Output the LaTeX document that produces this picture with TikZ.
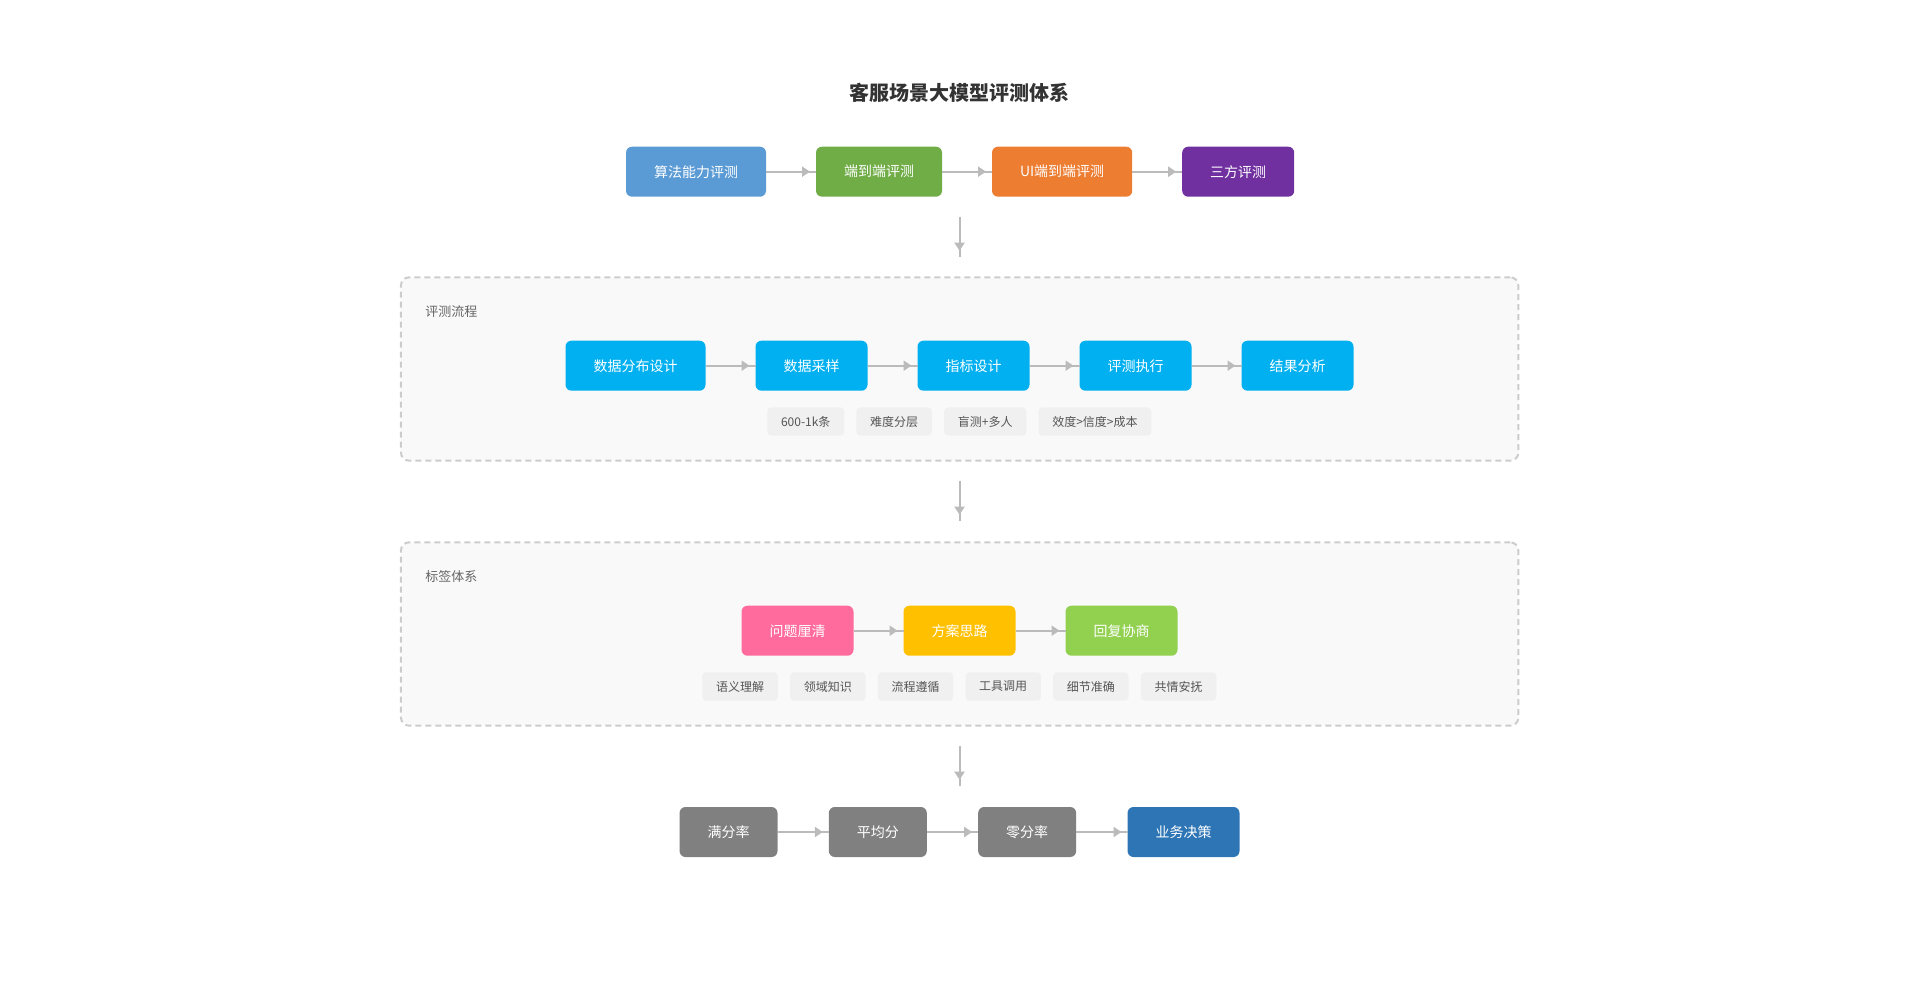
\documentclass[tikz,border=0pt]{standalone}
\usepackage{fontspec}
\setmainfont{Noto Sans CJK SC}
\usetikzlibrary{arrows.meta,positioning}

\definecolor{algoblue}{HTML}{5B9BD5}
\definecolor{endgreen}{HTML}{70AD47}
\definecolor{uiorange}{HTML}{ED7D31}
\definecolor{thirdpurple}{HTML}{7030A0}
\definecolor{flowcyan}{HTML}{00B0F0}
\definecolor{tagpink}{HTML}{FF6B9D}
\definecolor{tagyellow}{HTML}{FFC000}
\definecolor{taggreen}{HTML}{92D050}
\definecolor{metricgray}{HTML}{808080}
\definecolor{decisionblue}{HTML}{2E75B6}
\definecolor{panelbg}{HTML}{F9F9F9}
\definecolor{panelline}{HTML}{CCCCCC}
\definecolor{chipbg}{HTML}{F0F0F0}
\definecolor{chiptext}{HTML}{555555}
\definecolor{labeltext}{HTML}{666666}
\definecolor{titletext}{HTML}{333333}
\definecolor{arrowgray}{HTML}{BBBBBB}

\begin{document}
\begin{tikzpicture}[x=0.75pt,y=-0.75pt,node distance=37.5pt]
    \tikzstyle{box}=[rounded corners=4.5pt, minimum height=37.5pt, inner xsep=21pt, inner ysep=0pt, outer sep=0pt, text=white, font=\fontsize{10.5}{12}\selectfont]
    \tikzstyle{chip}=[rounded corners=3pt, fill=chipbg, text=chiptext, minimum height=21.3pt, inner xsep=10.3pt, inner ysep=0pt, outer sep=0pt, font=\fontsize{9}{11}\selectfont]
    \tikzstyle{panel}=[draw=panelline, dash pattern=on 4.5pt off 3pt, line width=1.5pt, fill=panelbg, rounded corners=6pt, minimum width=838pt, minimum height=137.5pt]
    \tikzstyle{panellabel}=[anchor=west, inner sep=0pt, text=labeltext, font=\fontsize{9.75}{12}\selectfont]
    \tikzstyle{conn}=[draw=arrowgray, line width=1.5pt, -{Triangle[length=6pt,width=7.5pt]}, shorten >=4.5pt, postaction={draw=arrowgray, -, shorten >=0pt}]

    \useasboundingbox (0,0) rectangle (1919,1002);

    \node[font=\bfseries\fontsize{15}{18}\selectfont, text=titletext] (title) at (959.5,93) {客服场景大模型评测体系};

    % evaluation types
    \node[box, fill=algoblue, anchor=west] (algo) at (626,171.7) {算法能力评测};
    \node[box, fill=endgreen, right=of algo]    (e2e)   {端到端评测};
    \node[box, fill=uiorange, right=of e2e]     (uie2e) {UI端到端评测};
    \node[box, fill=thirdpurple, right=of uie2e] (third) {三方评测};

    \draw[conn] (algo) -- (e2e);
    \draw[conn] (e2e) -- (uie2e);
    \draw[conn] (uie2e) -- (third);

    \coordinate (down1s) at (959.5,216.7);
    \coordinate (down1e) at (959.5,256.7);
    \draw[conn] (down1s) -- (down1e);

    % evaluation flow
    \node[panel] (flow) at (959.65,369) {};
    \node[panellabel] (flowlbl) at (425,311.7) {评测流程};

    \node[box, fill=flowcyan, anchor=west] (dist) at (565.5,365.7) {数据分布设计};
    \node[box, fill=flowcyan, right=of dist]   (sample) {数据采样};
    \node[box, fill=flowcyan, right=of sample] (metric) {指标设计};
    \node[box, fill=flowcyan, right=of metric] (exec)   {评测执行};
    \node[box, fill=flowcyan, right=of exec]   (result) {结果分析};

    \draw[conn] (dist) -- (sample);
    \draw[conn] (sample) -- (metric);
    \draw[conn] (metric) -- (exec);
    \draw[conn] (exec) -- (result);

    \node[chip, anchor=west] (size) at (767.3,421.5) {600-1k条};
    \node[chip, right=9.2pt of size]  (level) {难度分层};
    \node[chip, right=9.2pt of level] (blind) {盲测+多人};
    \node[chip, right=9.2pt of blind] (valid) {效度>信度>成本};

    \coordinate (down2s) at (959.5,480.7);
    \coordinate (down2e) at (959.5,520.7);
    \draw[conn] (down2s) -- (down2e);

    % label system
    \node[panel] (labels) at (959.65,634) {};
    \node[panellabel] (labelslbl) at (425,576.7) {标签体系};

    \node[box, fill=tagpink, anchor=west] (clarify) at (741.5,630.7) {问题厘清};
    \node[box, fill=tagyellow, right=of clarify] (plan)  {方案思路};
    \node[box, fill=taggreen, right=of plan]     (reply) {回复协商};

    \draw[conn] (clarify) -- (plan);
    \draw[conn] (plan) -- (reply);

    \node[chip, anchor=west] (semantic) at (702.3,686.5) {语义理解};
    \node[chip, right=9.2pt of semantic] (domain)  {领域知识};
    \node[chip, right=9.2pt of domain]   (process) {流程遵循};
    \node[chip, right=9.2pt of process]  (tool)    {工具调用};
    \node[chip, right=9.2pt of tool]     (detail)  {细节准确};
    \node[chip, right=9.2pt of detail]   (empathy) {共情安抚};

    \coordinate (down3s) at (959.5,745.7);
    \coordinate (down3e) at (959.5,785.7);
    \draw[conn] (down3s) -- (down3e);

    % metrics and decision
    \node[box, fill=metricgray, anchor=west] (full) at (679.5,832) {满分率};
    \node[box, fill=metricgray, right=38.5pt of full] (mean) {平均分};
    \node[box, fill=metricgray, right=38.5pt of mean] (zero) {零分率};
    \node[box, fill=decisionblue, right=38.5pt of zero] (decide) {业务决策};

    \draw[conn] (full) -- (mean);
    \draw[conn] (mean) -- (zero);
    \draw[conn] (zero) -- (decide);
\end{tikzpicture}
\end{document}
